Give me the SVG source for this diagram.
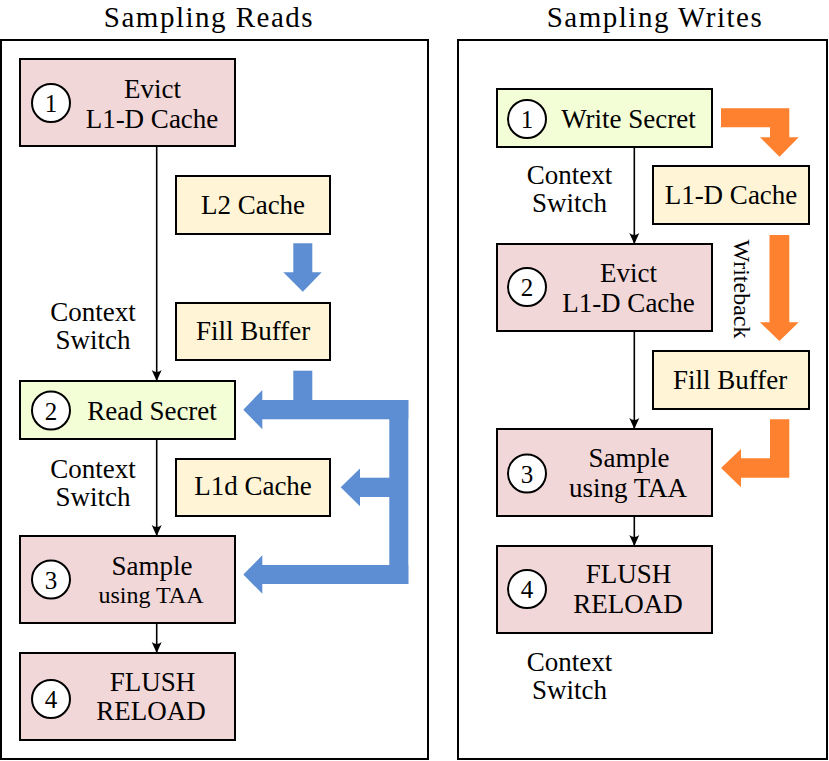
<svg xmlns="http://www.w3.org/2000/svg" width="829" height="761" viewBox="0 0 829 761">
<style>
text{font-family:"Liberation Serif","DejaVu Serif",serif;fill:#000;}
.t{font-size:27px;text-anchor:middle;}
.ts{font-size:24px;text-anchor:middle;}
.title{font-size:29px;text-anchor:middle;letter-spacing:1.5px;}
.num{font-size:25px;text-anchor:middle;}
.panel{fill:#fff;stroke:#000;stroke-width:2;}
.pink{fill:#f2d7d8;stroke:#000;stroke-width:2;}
.green{fill:#f3fdd6;stroke:#000;stroke-width:2;}
.yellow{fill:#fff5d6;stroke:#000;stroke-width:2;}
.circ{fill:#fff;stroke:#000;stroke-width:2;}
.conn{stroke:#000;stroke-width:1.6;fill:none;marker-end:url(#ah);}
.blue{fill:#5d8ed3;}
.orange{fill:#fd812e;}
</style>
<defs>
<marker id="ah" markerUnits="userSpaceOnUse" markerWidth="14" markerHeight="14" viewBox="-12 -7 14 14" refX="0" refY="0" orient="auto">
<path d="M0,0 L-11,-5 Q-7,0 -11,5 Z" fill="#000"/>
</marker>
</defs>

<rect width="829" height="761" fill="#fff"/>
<g id="panel-reads">
<rect class="panel" x="1" y="40" width="427" height="719"/>
<text class="title" x="209" y="27">Sampling Reads</text>
</g>
<g id="panel-writes">
<rect class="panel" x="458" y="40" width="369" height="719"/>
<text class="title" x="655" y="27">Sampling Writes</text>
</g>

<g id="connectors">
<line class="conn" x1="156.7" y1="146" x2="156.7" y2="381"/>
<line class="conn" x1="156.7" y1="439" x2="156.7" y2="536"/>
<line class="conn" x1="156.7" y1="623" x2="156.7" y2="653"/>
<line class="conn" x1="634.3" y1="147" x2="634.3" y2="244"/>
<line class="conn" x1="634.3" y1="331" x2="634.3" y2="429"/>
<line class="conn" x1="634.3" y1="516" x2="634.3" y2="546"/>
<text class="t" x="93" y="321">Context</text>
<text class="t" x="93" y="349">Switch</text>
<text class="t" x="93" y="478">Context</text>
<text class="t" x="93" y="506">Switch</text>
<text class="t" x="569.5" y="184">Context</text>
<text class="t" x="569.5" y="212">Switch</text>
<text class="t" x="569.5" y="671">Context</text>
<text class="t" x="569.5" y="699">Switch</text>
<polygon class="blue" points="293.3,243.3 312.3,243.3 312.3,272.3 321.7,272.3 302.8,291.7 283.3,272.3 293.3,272.3"/>
<g class="blue">
<rect x="293.3" y="370.7" width="19" height="35"/>
<rect x="262" y="400" width="146.3" height="19.3"/>
<rect x="389.3" y="400" width="19" height="184"/>
<rect x="262" y="565" width="146.3" height="19"/>
<rect x="359.5" y="477.7" width="32" height="19.3"/>
<polygon points="262.3,390 262.3,429.3 243.3,409.7"/>
<polygon points="360,468.5 360,506.2 340.7,487.3"/>
<polygon points="262.3,555.3 262.3,593.8 243.3,574.5"/>
</g>
<polygon class="orange" points="721,108.3 789.3,108.3 789.3,137.3 798.7,137.3 779.5,156.7 760,137.3 770,137.3 770,127.3 721,127.3"/>
<polygon class="orange" points="769.5,235 789.3,235 789.3,322.3 798.7,322.3 779.4,341 760,322.3 769.5,322.3"/>
<polygon class="orange" points="770,419.3 789.3,419.3 789.3,477.7 741,477.7 741,487.3 721,468 741,449 741,458.3 770,458.3"/>
<text class="ts" transform="translate(733.5,289) rotate(90)">Writeback</text>
</g>

<g id="r-n1">
<rect class="pink" x="20" y="59" width="215" height="87"/>
<circle class="circ" cx="51" cy="103" r="19"/>
<text class="num" x="51" y="112">1</text>
<text class="t" x="152.5" y="98">Evict</text>
<text class="t" x="152" y="128">L1-D Cache</text>
</g>
<g id="r-n2">
<rect class="green" x="20" y="381" width="215" height="58"/>
<circle class="circ" cx="51" cy="410.5" r="19"/>
<text class="num" x="51" y="419.5">2</text>
<text class="t" x="152" y="419.5">Read Secret</text>
</g>
<g id="r-n3">
<rect class="pink" x="20" y="536" width="215" height="87"/>
<circle class="circ" cx="51" cy="579.5" r="19"/>
<text class="num" x="51" y="588.5">3</text>
<text class="t" x="152" y="575">Sample</text>
<text class="ts" x="151" y="603">using TAA</text>
</g>
<g id="r-n4">
<rect class="pink" x="20" y="653" width="215" height="87"/>
<circle class="circ" cx="51" cy="699" r="19"/>
<text class="num" x="51" y="708">4</text>
<text class="t" x="152.5" y="691">FLUSH</text>
<text class="t" x="151" y="720">RELOAD</text>
</g>
<g id="r-l2">
<rect class="yellow" x="176" y="176" width="154" height="58"/>
<text class="t" x="253" y="213.5">L2 Cache</text>
</g>
<g id="r-fb">
<rect class="yellow" x="176" y="303" width="154" height="57"/>
<text class="t" x="253" y="340">Fill Buffer</text>
</g>
<g id="r-l1d">
<rect class="yellow" x="176" y="459" width="154" height="57"/>
<text class="t" x="253" y="495">L1d Cache</text>
</g>

<g id="w-n1">
<rect class="green" x="497" y="89" width="215" height="58"/>
<circle class="circ" cx="527" cy="119" r="19"/>
<text class="num" x="527" y="128">1</text>
<text class="t" x="628.5" y="127.5">Write Secret</text>
</g>
<g id="w-n2">
<rect class="pink" x="497" y="244" width="215" height="87"/>
<circle class="circ" cx="527" cy="287" r="19"/>
<text class="num" x="527" y="296">2</text>
<text class="t" x="628.5" y="282">Evict</text>
<text class="t" x="628.5" y="311.5">L1-D Cache</text>
</g>
<g id="w-n3">
<rect class="pink" x="497" y="429" width="215" height="87"/>
<circle class="circ" cx="527" cy="473.5" r="19"/>
<text class="num" x="527" y="482.5">3</text>
<text class="t" x="629" y="467">Sample</text>
<text class="t" x="628" y="497">using TAA</text>
</g>
<g id="w-n4">
<rect class="pink" x="497" y="546" width="215" height="87"/>
<circle class="circ" cx="527" cy="589" r="19"/>
<text class="num" x="527" y="598">4</text>
<text class="t" x="628.5" y="583">FLUSH</text>
<text class="t" x="628" y="613">RELOAD</text>
</g>
<g id="w-l1d">
<rect class="yellow" x="653" y="166" width="156" height="58"/>
<text class="t" x="731" y="204">L1-D Cache</text>
</g>
<g id="w-fb">
<rect class="yellow" x="653" y="351" width="156" height="58"/>
<text class="t" x="730" y="388.5">Fill Buffer</text>
</g>
</svg>
